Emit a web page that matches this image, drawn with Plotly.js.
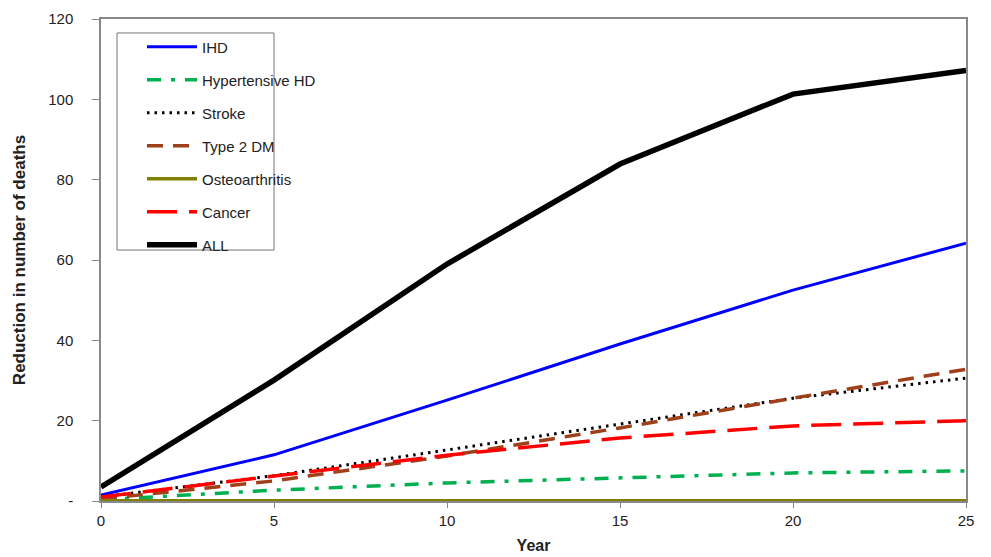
<!DOCTYPE html>
<html><head><meta charset="utf-8">
<script src="https://cdn.plot.ly/plotly-3.0.1.min.js"></script>
<style>html,body{margin:0;padding:0;background:#fff}#chart{width:991px;height:557px}</style>
</head><body><div id="chart"></div>
<script>
var years = [0, 5, 10, 15, 20, 25];
var ihd = [1.5, 11.5, 25.1, 39.1, 52.5, 64.2];
var hypertensiveHD = [0.3, 2.7, 4.5, 5.8, 7.0, 7.5];
var stroke = [1.0, 6.3, 12.7, 19.2, 25.6, 30.6];
var type2DM = [0.5, 5.0, 11.2, 18.2, 25.6, 32.8];
var osteoarthritis = [0.05, 0.05, 0.05, 0.05, 0.05, 0.05];
var cancer = [1.0, 6.2, 11.4, 15.7, 18.7, 20.0];
var allCauses = [3.5, 30.1, 59.0, 83.9, 101.3, 107.2];
var yTickVals = [0, 20, 40, 60, 80, 100, 120];
var yTickText = ['-', '20', '40', '60', '80', '100', '120'];
var xTickVals = [0, 5, 10, 15, 20, 25];

function tr(name, y, color, width, dash, g) {
  return {x: years, y: y, name: name, type: 'scatter', mode: 'lines',
    legendgroup: g, line: {color: color, width: width, dash: dash}};
}
var data = [
  tr('IHD', ihd, '#0000FF', 3, 'solid', 'a'),
  tr('Hypertensive HD', hypertensiveHD, '#00B050', 3.5, '14px,10px,4px,10px', 'b'),
  tr('Stroke', stroke, '#000000', 3, '2.5px,5px', 'c'),
  tr('Type 2 DM', type2DM, '#A0401A', 3.5, '16px,10px', 'd'),
  tr('Osteoarthritis', osteoarthritis, '#808000', 3.5, 'solid', 'e'),
  tr('Cancer', cancer, '#FF0000', 3.5, '30px,12px', 'f'),
  tr('ALL', allCauses, '#000000', 5.5, 'solid', 'g')
];
var layout = {
  width: 991, height: 557,
  margin: {l: 101, r: 25, t: 19, b: 56},
  paper_bgcolor: '#fff', plot_bgcolor: '#fff',
  font: {family: 'Liberation Sans, Arial, sans-serif', color: '#222'},
  showlegend: true,
  legend: {x: 0.0474, y: 0.976, xanchor: 'left', yanchor: 'top',
    bgcolor: 'rgba(0,0,0,0)', borderwidth: 0,
    font: {size: 15, color: '#222'}, tracegroupgap: 10.5, itemwidth: 50,
    traceorder: 'grouped'},
  shapes: [{type: 'rect', xref: 'paper', yref: 'paper',
    x0: 0.0185, x1: 0.2, y0: 0.5207, y1: 0.971,
    line: {color: '#777', width: 1}, fillcolor: 'rgba(0,0,0,0)', layer: 'below'}],
  xaxis: {range: [0, 25], tickvals: xTickVals, showgrid: false, zeroline: false,
    showline: true, linecolor: '#888', linewidth: 1.5, mirror: true,
    ticks: 'outside', ticklen: 5, tickcolor: '#888',
    tickfont: {size: 15, color: '#222'},
    title: {text: '<b>Year</b>', font: {size: 16, color: '#222'}, standoff: 12}},
  yaxis: {range: [0, 120], tickvals: yTickVals, ticktext: yTickText, showgrid: false,
    zeroline: false, showline: true, linecolor: '#888', linewidth: 1.5, mirror: true,
    ticks: 'outside', ticklen: 7, tickcolor: '#888', ticklabelstandoff: 16,
    tickfont: {size: 15, color: '#222'},
    title: {text: '<b>Reduction in number of deaths</b>', font: {size: 17, color: '#222'}, standoff: 18}}
};
Plotly.newPlot('chart', data, layout, {displayModeBar: false});
</script></body></html>
